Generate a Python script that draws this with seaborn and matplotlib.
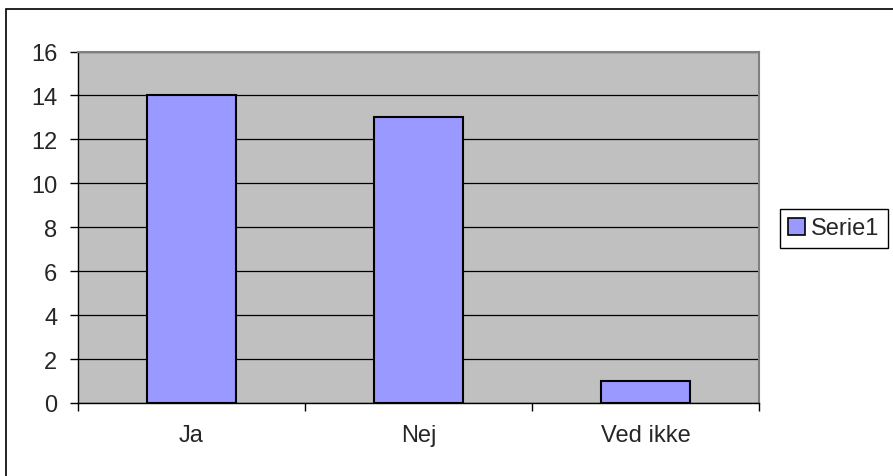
import matplotlib.pyplot as plt
import matplotlib.patches as mpatches
import seaborn as sns
import pandas as pd

categories = ["Ja", "Nej", "Ved ikke"]
values = [14, 13, 1]
series_name = "Serie1"

df = pd.DataFrame({"svar": categories, "antal": values})

sns.set_style("white")
plt.rcParams['font.family'] = ['Liberation Sans', 'DejaVu Sans']
plt.rcParams['font.size'] = 17

fig = plt.figure(figsize=(8.93, 4.77), dpi=100)
ax = fig.add_axes([78 / 893, 1 - 404 / 477, (759 - 78) / 893, (404 - 52.5) / 477])
ax.set_facecolor("#c0c0c0")

sns.barplot(data=df, x="svar", y="antal", color="#9999ff", width=0.395,
            edgecolor="black", linewidth=1.5, saturation=1, ax=ax, zorder=3)

ax.set_xlim(-0.5, 2.5)
ax.set_ylim(0, 16)
ax.set_yticks(range(0, 17, 2))
ax.set_xlabel("")
ax.set_ylabel("")
ax.grid(axis="y", color="black", linewidth=0.9, zorder=1)
ax.set_axisbelow(True)

# kategori-grænser som tick marks
ax.set_xticks([-0.5, 0.5, 1.5, 2.5], minor=True)
ax.tick_params(axis="x", which="major", bottom=True, length=0, pad=15, labelsize=17)
ax.tick_params(axis="x", which="minor", bottom=True, length=6, width=1, color="black", direction="out")
ax.tick_params(axis="y", left=True, length=6, width=1, color="black", direction="out", pad=9, labelsize=17)

for s in ["left", "bottom"]:
    ax.spines[s].set_color("black")
    ax.spines[s].set_linewidth(1)
for s in ["top", "right"]:
    ax.spines[s].set_color("#808080")
    ax.spines[s].set_linewidth(1.5)

# ydre ramme
border = mpatches.Rectangle((6 / 893, -0.1), 1.2, 1 - 10 / 477 + 0.1,
                            transform=fig.transFigure, fill=False,
                            edgecolor="black", linewidth=1.2)
fig.patches.append(border)

handle = mpatches.Patch(facecolor="#9999ff", edgecolor="black", linewidth=1.2)
leg = fig.legend([handle], [series_name], loc="center left",
                 bbox_to_anchor=(780 / 893, 1 - 229.5 / 477),
                 frameon=True, fancybox=False, framealpha=1, edgecolor="black",
                 fontsize=17, handlelength=0.72, handleheight=0.72,
                 handletextpad=0.25, borderpad=0.35, borderaxespad=0)
leg.get_frame().set_linewidth(1)

fig.savefig("out.png", dpi=100)
